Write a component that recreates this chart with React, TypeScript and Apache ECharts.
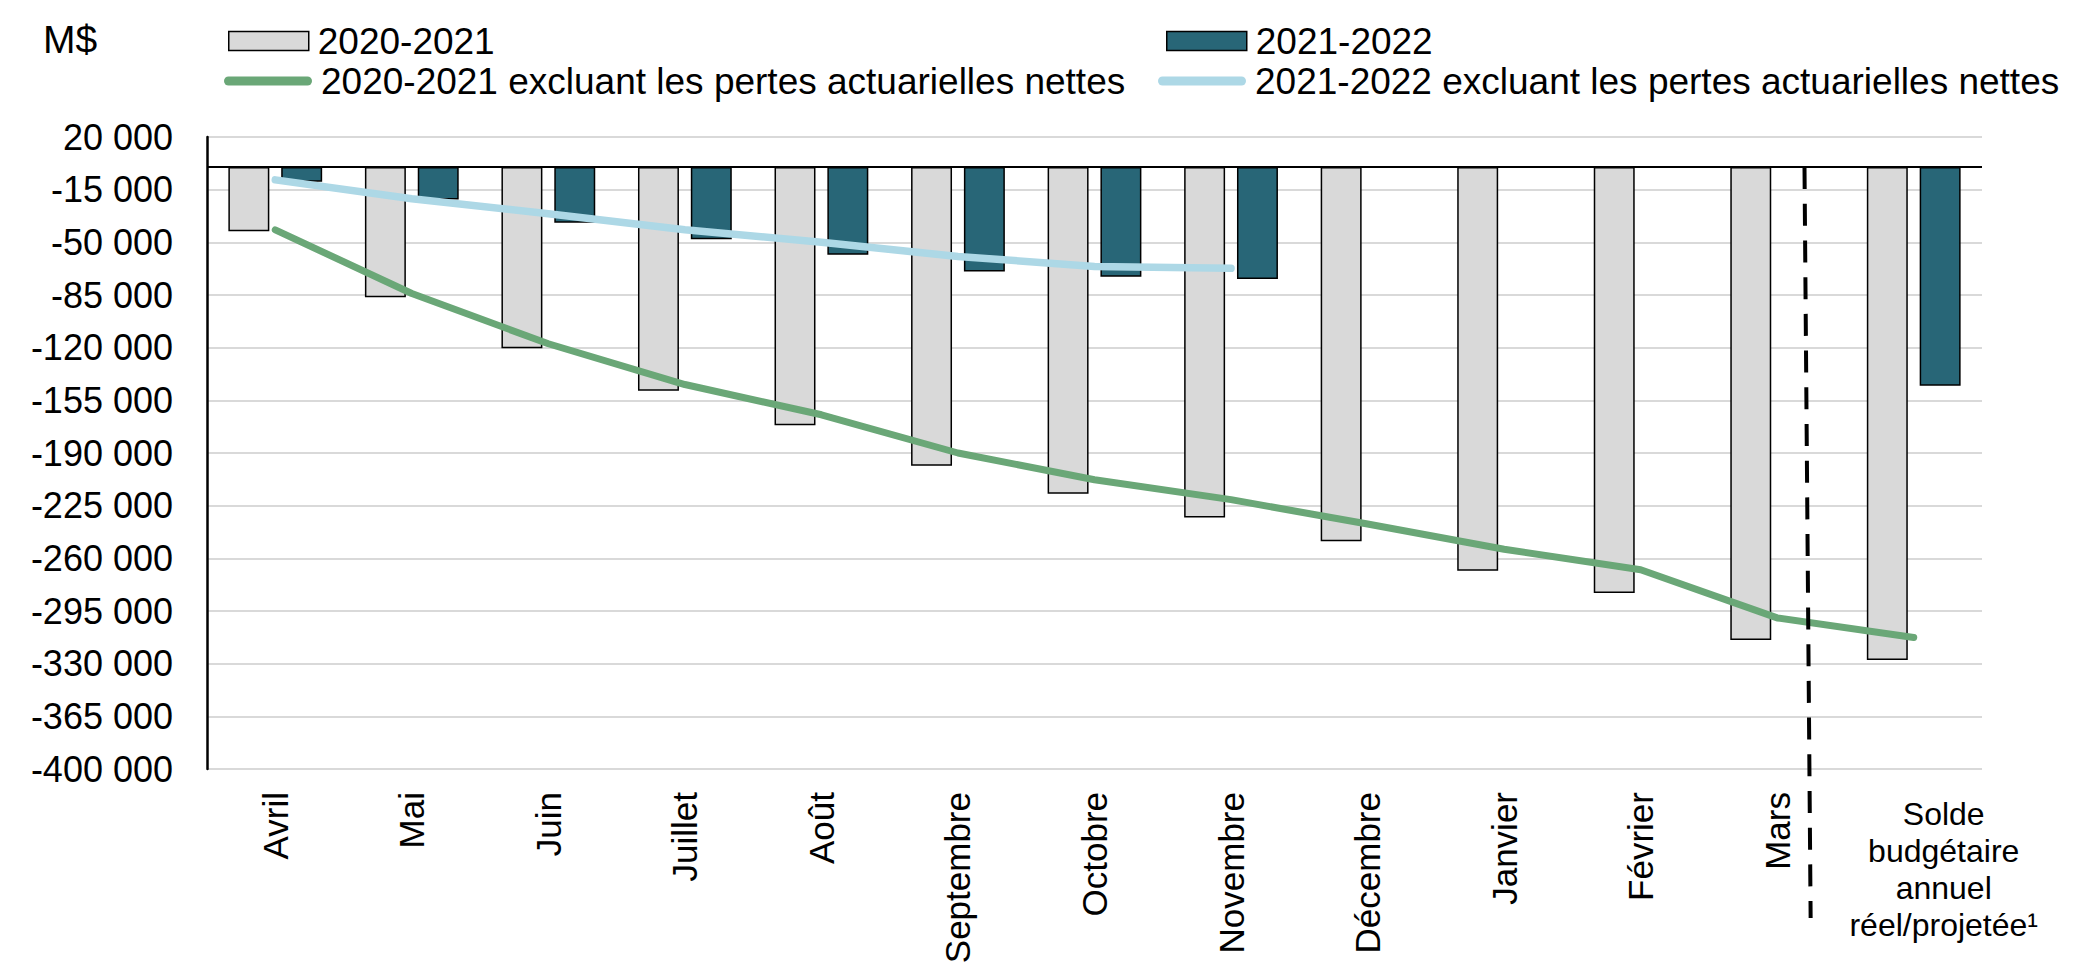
import { useEffect, useRef } from 'react';
import * as echarts from 'echarts';

const categories = [
  'Avril', 'Mai', 'Juin', 'Juillet', 'Août', 'Septembre', 'Octobre', 'Novembre',
  'Décembre', 'Janvier', 'Février', 'Mars', 'Solde budgétaire annuel réel/projetée¹',
];
const lastLabel = 'Solde\nbudgétaire\nannuel\nréel/projetée¹';

const seriesNames = [
  '2020-2021',
  '2021-2022',
  '2020-2021 excluant les pertes actuarielles nettes',
  '2021-2022 excluant les pertes actuarielles nettes',
];

const bars2020 = [-42600, -86500, -120400, -148600, -171500, -198500, -217100, -232800, -248700, -268300, -283000, -314300, -327600];
const bars2021 = [-9700, -21600, -37000, -47900, -58300, -69300, -72900, -74400, null, null, null, null, -145300];
const line2020 = [-41700, -84000, -117400, -144500, -164600, -190000, -207800, -221000, -237200, -254000, -267600, -299600, -312600];
const line2021 = [-8500, -21000, -31000, -41600, -50000, -59400, -66000, -67300, null, null, null, null, null];

const yMin = -400000;
const yMax = 20000;
const yStep = 35000;

const FONT = "'Liberation Sans', Arial, sans-serif";
const GRAY = '#D9D9D9';
const DARK = '#286677';
const GREEN = '#6AA777';
const LIGHT = '#ADD8E6';

const pill = 'path://M4.5,0 L83.5,0 A4.5,4.5 0 0 1 83.5,9 L4.5,9 A4.5,4.5 0 0 1 4.5,0 Z';

function fmt(v: number) {
  const s = Math.abs(v).toString().replace(/\B(?=(\d{3})+(?!\d))/g, ' ');
  return (v < 0 ? '-' : '') + s;
}

function legendItem(name: string, left: number, top: number, isLine: boolean, color: string) {
  return {
    show: true,
    left,
    top,
    padding: 0,
    orient: 'horizontal',
    selectedMode: false,
    data: [name],
    itemWidth: isLine ? 88 : 80,
    itemHeight: isLine ? 9 : 19,
    icon: isLine ? pill : 'rect',
    itemStyle: isLine ? { color, borderWidth: 0 } : { color, borderColor: '#000', borderWidth: 1.5 },
    textStyle: { fontFamily: FONT, fontSize: 37, color: '#000', lineHeight: 40, padding: [0, 0, 0, 4] },
  };
}

export default function App() {
  const ref = useRef<HTMLDivElement>(null);
  useEffect(() => {
    const chart = echarts.init(ref.current!, null, { renderer: 'svg' });
    const option: any = {
      animation: false,
      backgroundColor: '#fff',
      grid: { left: 207, right: 100, top: 137, bottom: 210, containLabel: false },
      legend: [
        legendItem(seriesNames[0], 228, 21, false, GRAY),
        legendItem(seriesNames[1], 1166, 21, false, DARK),
        legendItem(seriesNames[2], 224, 61, true, GREEN),
        legendItem(seriesNames[3], 1158, 61, true, LIGHT),
      ],
      xAxis: [
        {
          type: 'category',
          data: categories,
          axisLine: { show: false },
          axisTick: { show: false },
          splitLine: { show: false },
          axisLabel: {
            interval: 0,
            rotate: 90,
            margin: 23,
            fontFamily: FONT,
            fontSize: 35,
            color: '#000',
            formatter: (v: string, i: number) => (i === categories.length - 1 ? '' : v),
          },
        },
        {
          type: 'category',
          data: categories,
          position: 'bottom',
          axisLine: { show: false },
          axisTick: { show: false },
          splitLine: { show: false },
          axisLabel: {
            interval: 0,
            rotate: 0,
            margin: 26,
            fontFamily: FONT,
            fontSize: 32,
            lineHeight: 37,
            color: '#000',
            align: 'center',
            padding: [0, 0, 0, 60],
            formatter: (v: string, i: number) => (i === categories.length - 1 ? lastLabel : ''),
          },
        },
      ],
      yAxis: {
        type: 'value',
        min: yMin,
        max: yMax,
        interval: yStep,
        axisLine: { show: true, lineStyle: { color: '#000', width: 2.5 } },
        axisTick: { show: false },
        splitLine: { show: true, lineStyle: { color: '#D9D9D9', width: 2 } },
        axisLabel: {
          margin: 34,
          fontFamily: FONT,
          fontSize: 36,
          color: '#000',
          formatter: (v: number) => fmt(v),
        },
      },
      series: [
        {
          name: seriesNames[0],
          type: 'bar',
          data: bars2020,
          barWidth: '30%',
          barGap: '29%',
          itemStyle: { color: GRAY, borderColor: '#000', borderWidth: 1.5 },
          markLine: {
            silent: true,
            symbol: 'none',
            label: { show: false },
            lineStyle: { color: '#000', width: 2, type: 'solid' },
            data: [{ yAxis: 0 }],
          },
        },
        {
          name: seriesNames[1],
          type: 'bar',
          data: bars2021,
          barWidth: '30%',
          itemStyle: { color: DARK, borderColor: '#000', borderWidth: 1.5 },
        },
        {
          name: seriesNames[2],
          type: 'line',
          data: line2020,
          symbol: 'none',
          showSymbol: false,
          itemStyle: { color: GREEN },
          lineStyle: { color: GREEN, width: 7, cap: 'round', join: 'round' },
        },
        {
          name: seriesNames[3],
          type: 'line',
          data: line2021,
          symbol: 'none',
          showSymbol: false,
          connectNulls: false,
          itemStyle: { color: LIGHT },
          lineStyle: { color: LIGHT, width: 7.5, cap: 'round', join: 'round' },
        },
      ],
    };
    chart.setOption(option);

    const xM = chart.convertToPixel({ xAxisIndex: 0 }, 'Mars') as number;
    const xS = chart.convertToPixel({ xAxisIndex: 0 }, categories[categories.length - 1]) as number;
    const y0 = chart.convertToPixel({ yAxisIndex: 0 }, 0) as number;
    const yB = chart.convertToPixel({ yAxisIndex: 0 }, yMin) as number;
    const d = xS - xM;
    chart.setOption({
      graphic: [
        {
          type: 'text',
          id: 'unit',
          left: 43,
          top: 20,
          style: { text: 'M$', fontFamily: FONT, fontSize: 39, fill: '#000' },
        },
        {
          type: 'line',
          id: 'sep',
          silent: true,
          z: 10,
          shape: { x1: xM + 0.2 * d, y1: y0, x2: xM + 0.245 * d, y2: yB + 149 },
          style: { stroke: '#000', lineWidth: 4, lineDash: [22, 14.7] },
        },
      ],
    });
    return () => chart.dispose();
  }, []);
  return <div ref={ref} style={{ position: 'fixed', left: 0, top: 0, width: 2082, height: 979 }} />;
}
